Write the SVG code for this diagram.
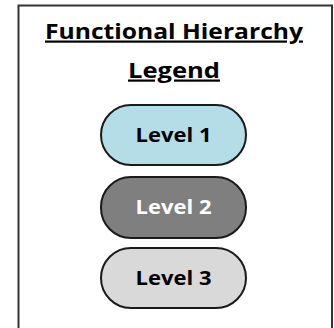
<svg xmlns="http://www.w3.org/2000/svg" width="334" height="328" viewBox="0 0 334 328">
<style>
.t{font-family:"Open Sans","Liberation Sans",sans-serif;font-weight:bold;text-anchor:middle}
.title{font-size:22px;fill:#000;text-decoration:underline}
.pill{stroke:#1a1a1a;stroke-width:2}
.lbl{font-size:20px}
</style>
<rect x="18.5" y="5.5" width="313.5" height="330" fill="#fff" stroke="#333" stroke-width="2"/>
<g id="title">
<text class="t title" x="174" y="38.5" textLength="258" lengthAdjust="spacingAndGlyphs">Functional Hierarchy</text>
<text class="t title" x="174" y="77.5" textLength="92" lengthAdjust="spacingAndGlyphs">Legend</text>
</g>
<g id="level1">
<rect class="pill" x="101" y="105" width="145" height="60" rx="30" fill="#b4dde7"/>
<text class="t lbl" x="173.5" y="142" fill="#000" textLength="76" lengthAdjust="spacingAndGlyphs">Level 1</text>
</g>
<g id="level2">
<rect class="pill" x="101" y="177" width="145" height="61" rx="30" fill="#7f7f7f"/>
<text class="t lbl" x="173.5" y="214" fill="#fff" textLength="76" lengthAdjust="spacingAndGlyphs">Level 2</text>
</g>
<g id="level3">
<rect class="pill" x="101" y="248" width="145" height="60" rx="30" fill="#d9d9d9"/>
<text class="t lbl" x="173.5" y="285" fill="#000" textLength="76" lengthAdjust="spacingAndGlyphs">Level 3</text>
</g>
</svg>
